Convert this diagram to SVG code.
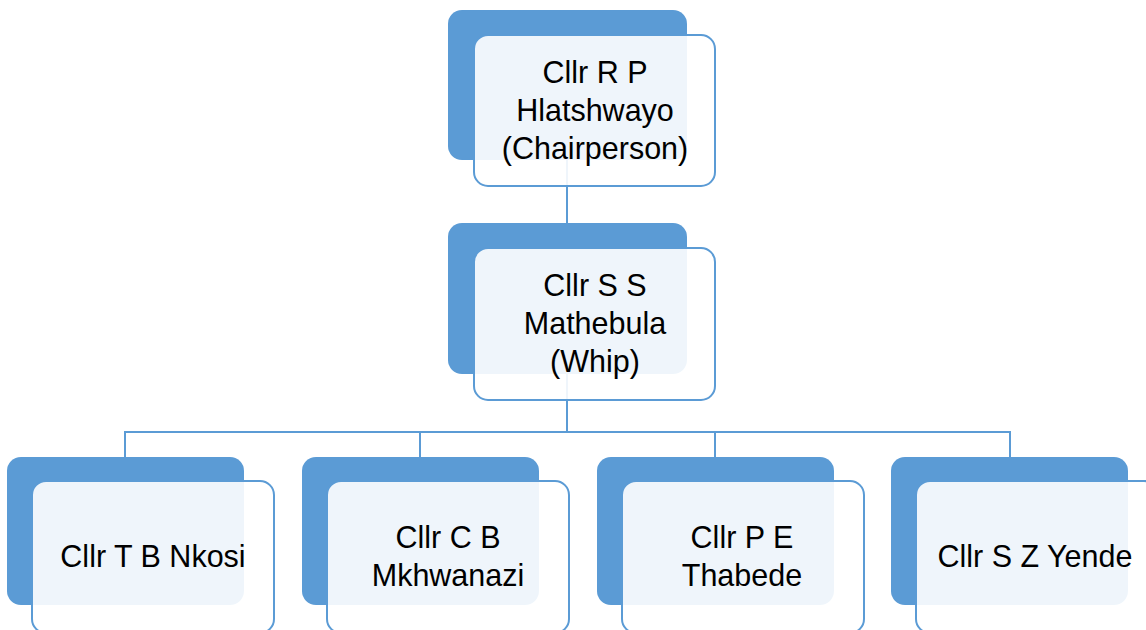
<svg xmlns="http://www.w3.org/2000/svg" width="1146" height="630" viewBox="0 0 1146 630">
<style>
.back{fill:#5B9BD5;}
.front{fill:#FFFFFF;fill-opacity:0.9;stroke:#5B9BD5;stroke-width:2;}
.conn{stroke:#5B9BD5;stroke-width:2;fill:none;}
text{font-family:"Liberation Sans",Arial,sans-serif;font-size:30.5px;fill:#000;text-anchor:middle;}
</style>
<rect width="1146" height="630" fill="#FFFFFF"/>
<g id="backs">
<rect class="back" x="448" y="10" width="239" height="150" rx="14"/>
<rect class="back" x="448" y="223" width="239" height="151" rx="14"/>
<rect class="back" x="7" y="457" width="237" height="148" rx="14"/>
<rect class="back" x="302" y="457" width="237" height="148" rx="14"/>
<rect class="back" x="597" y="457" width="237" height="148" rx="14"/>
<rect class="back" x="891" y="457" width="237" height="148" rx="14"/>
</g>
<g id="connectors">
<path class="conn" d="M567 160 V223"/>
<path class="conn" d="M567 374 V432"/>
<path class="conn" d="M125 457 V432 H1010 V457"/>
<path class="conn" d="M420 432 V457"/>
<path class="conn" d="M715 432 V457"/>
</g>
<g id="node-chair">
<rect class="front" x="474" y="35" width="241" height="151" rx="14"/>
<text x="595" y="83">Cllr R P</text>
<text x="595" y="121">Hlatshwayo</text>
<text x="595" y="159">(Chairperson)</text>
</g>
<g id="node-whip">
<rect class="front" x="474" y="248" width="241" height="152" rx="14"/>
<text x="595" y="296">Cllr S S</text>
<text x="595" y="334">Mathebula</text>
<text x="595" y="372">(Whip)</text>
</g>
<g id="node-nkosi">
<rect class="front" x="32" y="481" width="242" height="152" rx="14"/>
<text x="153" y="567">Cllr T B Nkosi</text>
</g>
<g id="node-mkhwanazi">
<rect class="front" x="327" y="481" width="242" height="152" rx="14"/>
<text x="448" y="548">Cllr C B</text>
<text x="448" y="586">Mkhwanazi</text>
</g>
<g id="node-thabede">
<rect class="front" x="622" y="481" width="242" height="152" rx="14"/>
<text x="742" y="548">Cllr P E</text>
<text x="742" y="586">Thabede</text>
</g>
<g id="node-yende">
<rect class="front" x="916" y="481" width="242" height="152" rx="14"/>
<text x="1035" y="567">Cllr S Z Yende</text>
</g>
</svg>
